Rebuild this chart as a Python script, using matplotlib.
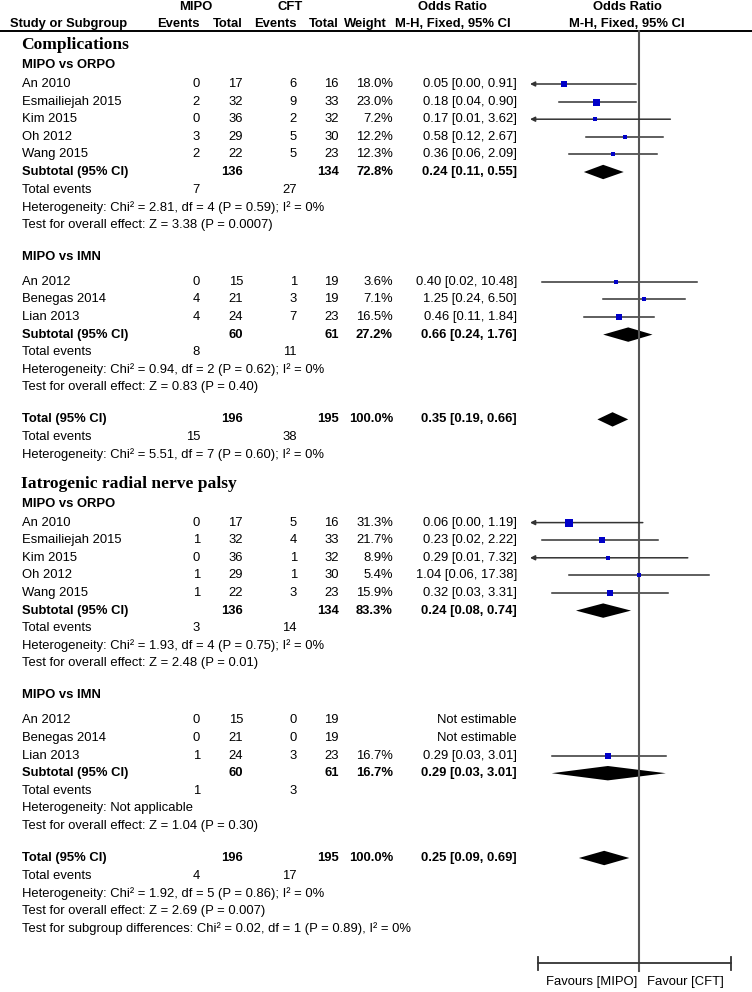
import matplotlib.pyplot as plt
from matplotlib.patches import Polygon
import numpy as np

plt.rcParams['font.family'] = ['Liberation Sans', 'DejaVu Sans']

# ---- study level data (both outcomes, in drawing order) ----
study = ['An 2010', 'Esmailiejah 2015', 'Kim 2015', 'Oh 2012', 'Wang 2015',
         'An 2012', 'Benegas 2014', 'Lian 2013',
         'An 2010', 'Esmailiejah 2015', 'Kim 2015', 'Oh 2012', 'Wang 2015',
         'An 2012', 'Benegas 2014', 'Lian 2013']
group = [0, 0, 0, 0, 0, 1, 1, 1, 2, 2, 2, 2, 2, 3, 3, 3]
mipo_events = [0, 2, 0, 3, 2, 0, 4, 4, 0, 1, 0, 1, 1, 0, 0, 1]
mipo_total = [17, 32, 36, 29, 22, 15, 21, 24, 17, 32, 36, 29, 22, 15, 21, 24]
cft_events = [6, 9, 2, 5, 5, 1, 3, 7, 5, 4, 1, 1, 3, 0, 0, 3]
cft_total = [16, 33, 32, 30, 23, 19, 19, 23, 16, 33, 32, 30, 23, 19, 19, 23]
weight = [18.0, 23.0, 7.2, 12.2, 12.3, 3.6, 7.1, 16.5,
          31.3, 21.7, 8.9, 5.4, 15.9, None, None, 16.7]
or_mid = [0.05, 0.18, 0.17, 0.58, 0.36, 0.40, 1.25, 0.46,
          0.06, 0.23, 0.29, 1.04, 0.32, None, None, 0.29]
or_low = [0.00, 0.04, 0.01, 0.12, 0.06, 0.02, 0.24, 0.11,
          0.00, 0.02, 0.01, 0.06, 0.03, None, None, 0.03]
or_high = [0.91, 0.90, 3.62, 2.67, 2.09, 10.48, 6.50, 1.84,
           1.19, 2.22, 7.32, 17.38, 3.31, None, None, 3.01]

# ---- subgroup data ----
sub_name = ['MIPO vs ORPO', 'MIPO vs IMN', 'MIPO vs ORPO', 'MIPO vs IMN']
sub_mipo_total = [136, 60, 136, 60]
sub_cft_total = [134, 61, 134, 61]
sub_weight = [72.8, 27.2, 83.3, 16.7]
sub_or = [0.24, 0.66, 0.24, 0.29]
sub_low = [0.11, 0.24, 0.08, 0.03]
sub_high = [0.55, 1.76, 0.74, 3.01]
sub_ev_mipo = [7, 8, 3, 1]
sub_ev_cft = [27, 11, 14, 3]
sub_het = ['Heterogeneity: Chi\u00b2 = 2.81, df = 4 (P = 0.59); I\u00b2 = 0%',
           'Heterogeneity: Chi\u00b2 = 0.94, df = 2 (P = 0.62); I\u00b2 = 0%',
           'Heterogeneity: Chi\u00b2 = 1.93, df = 4 (P = 0.75); I\u00b2 = 0%',
           'Heterogeneity: Not applicable']
sub_test = ['Test for overall effect: Z = 3.38 (P = 0.0007)',
            'Test for overall effect: Z = 0.83 (P = 0.40)',
            'Test for overall effect: Z = 2.48 (P = 0.01)',
            'Test for overall effect: Z = 1.04 (P = 0.30)']

# ---- outcome totals ----
outcome = ['Complications', 'Iatrogenic radial nerve palsy']
outcome_groups = [[0, 1], [2, 3]]
tot_mipo = [196, 196]
tot_cft = [195, 195]
tot_or = [0.35, 0.25]
tot_low = [0.19, 0.09]
tot_high = [0.66, 0.69]
tot_ev_mipo = [15, 4]
tot_ev_cft = [38, 17]
tot_het = ['Heterogeneity: Chi\u00b2 = 5.51, df = 7 (P = 0.60); I\u00b2 = 0%',
           'Heterogeneity: Chi\u00b2 = 1.92, df = 5 (P = 0.86); I\u00b2 = 0%']
tot_extra = [[],
             ['Test for overall effect: Z = 2.69 (P = 0.007)',
              'Test for subgroup differences: Chi\u00b2 = 0.02, df = 1 (P = 0.89), I\u00b2 = 0%']]

# ---- figure ----
W, H = 752, 992
fig = plt.figure(figsize=(W / 100, H / 100), dpi=100)
tab = fig.add_axes([0, 0, 1, 1])
tab.set_xlim(0, W)
tab.set_ylim(H, 0)
tab.axis('off')

# forest plot axes: log scale, null line at 1
px_null, px_dec = 638.5, 57.0
xmin = 10 ** ((530 - px_null) / px_dec)
xmax = 10 ** ((731 - px_null) / px_dec)
scale_lo = 10 ** ((538 - px_null) / px_dec)
fx0 = 530 / W
ax = fig.add_axes([fx0, 0, 731 / W - fx0, 1])
ax.set_xscale('log')
ax.set_xlim(xmin, xmax)
ax.set_ylim(H, 0)
ax.axis('off')

fs = 9.4
col_me, col_mt, col_ce, col_ct, col_w, col_or = 200, 243, 297, 339, 393, 517
x_lab = 22
ci_color = '#333333'
sq_color = '#0000c8'


def txt(x, y, s, ha='left', bold=False, **kw):
    tab.text(x, y, s, ha=ha, va='center', fontsize=kw.pop('size', fs),
             fontweight='bold' if bold else 'normal', **kw)


def row_nums(y, me, mt, ce, ct, w, ortxt, bold=False):
    for x, v in ((col_me, me), (col_mt, mt), (col_ce, ce), (col_ct, ct)):
        if v is not None:
            txt(x, y, str(v), ha='right', bold=bold)
    if w is not None:
        txt(col_w, y, '%.1f%%' % w, ha='right', bold=bold)
    txt(col_or, y, ortxt, ha='right', bold=bold)


def diamond(y, m, lo, hi, h=7.2):
    ax.add_patch(Polygon([(lo, y), (m, y - h), (hi, y), (m, y + h)],
                         closed=True, color='black', lw=0))


# header
txt(196, 7, 'MIPO', ha='center', bold=True)
txt(290, 7, 'CFT', ha='center', bold=True)
txt(452, 7, 'Odds Ratio', ha='center', bold=True)
txt(627, 7, 'Odds Ratio', ha='center', bold=True)
hy = 24
txt(10, hy, 'Study or Subgroup', bold=True)
for x, s in ((col_me, 'Events'), (col_mt, 'Total'), (col_ce, 'Events'),
             (col_ct, 'Total'), (387, 'Weight'), (511, 'M-H, Fixed, 95% CI')):
    txt(x, hy, s, ha='right', bold=True)
txt(627, hy, 'M-H, Fixed, 95% CI', ha='center', bold=True)
tab.plot([0, W], [31, 31], color='black', lw=1.4)

# body
rh = 17.6
gap = 32
y = 45
for k, oname in enumerate(outcome):
    if k > 0:
        y += 29
    txt(x_lab - 1, y, oname, bold=True, size=12.6, family=['Liberation Serif', 'DejaVu Serif'])
    for j, g in enumerate(outcome_groups[k]):
        y += 20 if j == 0 else gap
        txt(x_lab, y, sub_name[g], bold=True)
        first = True
        for i in [i for i in range(len(study)) if group[i] == g]:
            y += (19 if j == 0 else 25) if first else rh
            first = False
            txt(x_lab, y, study[i])
            if or_mid[i] is None:
                row_nums(y, mipo_events[i], mipo_total[i], cft_events[i], cft_total[i],
                         None, 'Not estimable')
                continue
            row_nums(y, mipo_events[i], mipo_total[i], cft_events[i], cft_total[i], weight[i],
                     '%.2f [%.2f, %.2f]' % (or_mid[i], or_low[i], or_high[i]))
            lo = max(or_low[i], xmin)
            if or_low[i] < xmin:
                ax.annotate('', xy=(lo, y), xytext=(or_high[i], y),
                            arrowprops=dict(arrowstyle='-|>', lw=1.1, color=ci_color,
                                            mutation_scale=7, shrinkA=0, shrinkB=0))
            else:
                ax.plot([lo, or_high[i]], [y, y], color=ci_color, lw=1.1, clip_on=False)
            # square side (px) grows with the study weight
            side = (2.4 + 0.2 * weight[i]) * 0.72
            ax.plot(or_mid[i], y, marker='s', ms=side, color=sq_color, mew=0,
                    lw=0, clip_on=False, zorder=3)
        y += rh
        txt(x_lab, y, 'Subtotal (95% CI)', bold=True)
        row_nums(y, None, sub_mipo_total[g], None, sub_cft_total[g], sub_weight[g],
                 '%.2f [%.2f, %.2f]' % (sub_or[g], sub_low[g], sub_high[g]), bold=True)
        diamond(y, sub_or[g], sub_low[g], sub_high[g])
        y += rh
        txt(x_lab, y, 'Total events')
        txt(col_me, y, str(sub_ev_mipo[g]), ha='right')
        txt(col_ce, y, str(sub_ev_cft[g]), ha='right')
        for s in (sub_het[g], sub_test[g]):
            y += rh
            txt(x_lab, y, s)
    y += gap
    txt(x_lab, y, 'Total (95% CI)', bold=True)
    row_nums(y, None, tot_mipo[k], None, tot_cft[k], 100.0,
             '%.2f [%.2f, %.2f]' % (tot_or[k], tot_low[k], tot_high[k]), bold=True)
    diamond(y, tot_or[k], tot_low[k], tot_high[k])
    y += rh
    txt(x_lab, y, 'Total events')
    txt(col_me, y, str(tot_ev_mipo[k]), ha='right')
    txt(col_ce, y, str(tot_ev_cft[k]), ha='right')
    for s in [tot_het[k]] + tot_extra[k]:
        y += rh
        txt(x_lab, y, s)

# null line and scale
axis_y = 963
ax.plot([1, 1], [31, axis_y + 8], color='#555555', lw=1.5, clip_on=False)
ax.plot([scale_lo, xmax], [axis_y, axis_y], color='#333333', lw=1.3, clip_on=False)
for xv in (scale_lo, xmax):
    ax.plot([xv, xv], [axis_y - 6.5, axis_y + 6.5], color='#333333', lw=1.3, clip_on=False)
ax.text(0.94, axis_y + 19, 'Favours [MIPO]', ha='right', va='center', fontsize=9.4)
ax.text(1.42, axis_y + 19, 'Favour [CFT]', ha='left', va='center', fontsize=9.4)

fig.savefig('out.png', dpi=100)
